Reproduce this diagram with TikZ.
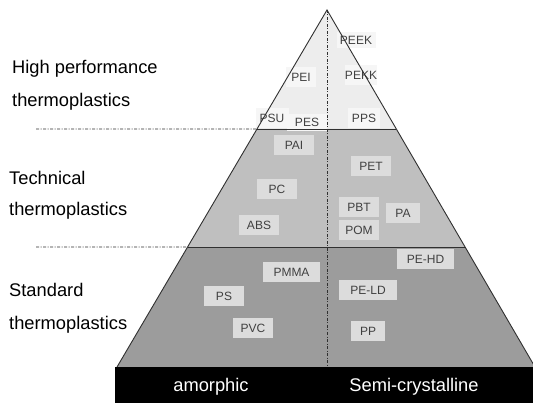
\documentclass[tikz,border=0pt]{standalone}
\usepackage{fontspec}
\setmainfont{Liberation Sans}
\usetikzlibrary{calc}
\definecolor{topgray}{HTML}{EDEDED}
\definecolor{midgray}{HTML}{BFBFBF}
\definecolor{botgray}{HTML}{9C9C9C}
\definecolor{boxgray}{HTML}{DCDCDC}
\definecolor{boxlight}{HTML}{F6F6F6}
\definecolor{txtgray}{HTML}{404040}
\definecolor{edgegray}{HTML}{303030}
\begin{document}
\begin{tikzpicture}[x=1pt,y=-1pt,
  mat/.style={fill=boxgray, text=txtgray, font=\fontsize{12}{13}\selectfont, inner sep=0pt, minimum height=20pt, minimum width=40pt},
  matlight/.style={mat, fill=boxlight},
  side/.style={anchor=west, font=\fontsize{18.3}{20}\selectfont, text=black, inner sep=0pt},
  foot/.style={font=\fontsize{18.3}{20}\selectfont, text=white, inner sep=0pt},
  divline/.style={draw=edgegray, line width=0.6pt, dash pattern=on 3pt off 1.5pt on 1pt off 1.5pt},
  edge/.style={draw=edgegray, line width=0.9pt}]
\useasboundingbox (0,0) rectangle (533,403);
\fill[white] (0,0) rectangle (533,403);
% pyramid corners
\coordinate (A) at (327,10);
\coordinate (BL) at (117,367);
\coordinate (BR) at (535,367);
\coordinate (L1) at ($(A)!0.3333!(BL)$);
\coordinate (R1) at ($(A)!0.3333!(BR)$);
\coordinate (L2) at ($(A)!0.6639!(BL)$);
\coordinate (R2) at ($(A)!0.6639!(BR)$);
\coordinate (C) at (327,367);
\coordinate (D1) at (36,129);
\coordinate (D2) at (36,247);
% regions
\fill[topgray] (A) -- (L1) -- (R1) -- cycle;
\fill[midgray] (L1) -- (R1) -- (R2) -- (L2) -- cycle;
\fill[botgray] (L2) -- (R2) -- (BR) -- (BL) -- cycle;
% material boxes
\node[matlight, minimum width=39pt, minimum height=16pt] (peek) at (356,40) {PEEK};
\node[matlight, minimum width=30pt] (pei) at (301,77.5) {PEI};
\node[matlight, minimum width=30pt] (pekk) at (361,75.5) {PEKK};
\node[matlight, minimum width=33pt] (psu) at (272,118) {PSU};
\node[matlight, minimum height=17pt] (pes) at (307,122.5) {PES};
\node[matlight, minimum width=32pt] (pps) at (364,118.5) {PPS};
\node[mat] (pai) at (294,145.5) {PAI};
\node[mat] (pet) at (371,166) {PET};
\node[mat] (pc) at (277,189) {PC};
\node[mat] (pbt) at (359,207) {PBT};
\node[mat, minimum width=34pt] (pa) at (403,213) {PA};
\node[mat] (abs) at (259,225) {ABS};
\node[mat] (pom) at (359,230) {POM};
\node[mat, minimum width=57pt] (pmma) at (291.5,272) {PMMA};
\node[mat, minimum width=57pt] (pehd) at (425.5,259.5) {PE-HD};
\node[mat] (ps) at (224,296) {PS};
\node[mat, minimum width=58pt] (peld) at (368,290) {PE-LD};
\node[mat] (pvc) at (253,328.5) {PVC};
\node[mat, minimum width=34pt] (pp) at (368,331) {PP};
% dividers
\draw[divline] (D1) -- (L1);
\draw[divline] (D2) -- (L2);
\draw[divline] (A) -- (C);
% outline
\draw[edge] (BL) -- (A) -- (BR);
\draw[edge] (L1) -- (R1);
\draw[edge] (L2) -- (R2);
% base band
\fill[black] (115,367) rectangle (533,403);
\node[foot] (amo) at (211,387) {amorphic};
\node[foot] (semi) at (414,387) {Semi-crystalline};
% side labels
\node[side] (hp1) at (12,69) {High performance};
\node[side] (hp2) at (12,102) {thermoplastics};
\node[side] (te1) at (9,178) {Technical};
\node[side] (te2) at (9,211) {thermoplastics};
\node[side] (st1) at (9,290) {Standard};
\node[side] (st2) at (9,325) {thermoplastics};
\end{tikzpicture}
\end{document}
